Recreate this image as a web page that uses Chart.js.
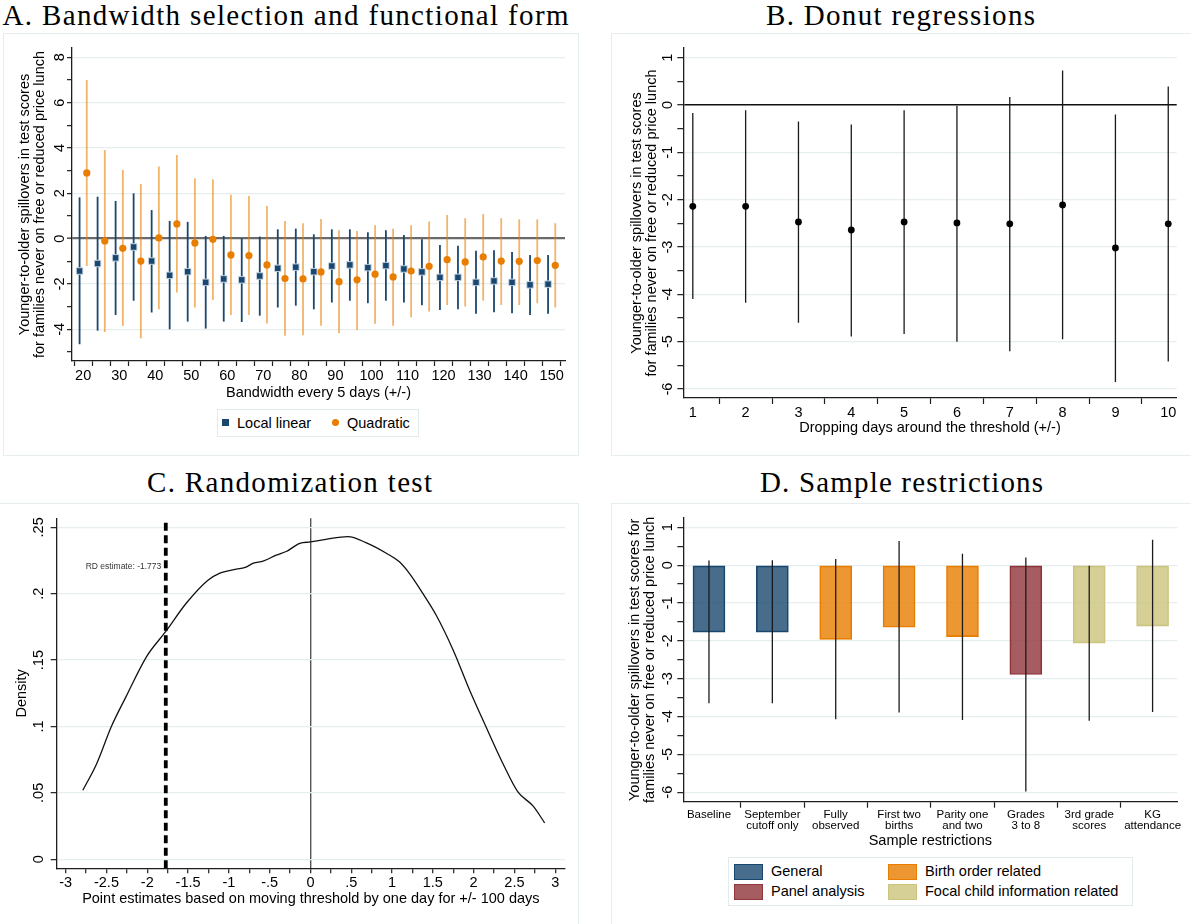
<!DOCTYPE html>
<html lang="en">
<head>
<meta charset="utf-8">
<title>Younger-to-older spillovers: robustness checks</title>
<script src="https://cdn.jsdelivr.net/npm/chart.js@4.4.1/dist/chart.umd.min.js"></script>
<style>
  html, body { margin: 0; padding: 0; background: #fff; }
  #page { position: relative; width: 1191px; height: 924px; overflow: hidden; background: #fff;
          font-family: 'Liberation Sans', Arial, Helvetica, sans-serif; color: #000; }
  .frame { position: absolute; border: 1px solid #e6edef; box-sizing: border-box; }
  .ptitle { position: absolute; font-family: 'Liberation Serif', 'Times New Roman', serif; font-size: 29px;
            line-height: 32px; height: 32px; white-space: nowrap; color: #000; }
  .plot { position: absolute; }
  .plot canvas { display: block; }
  .legend { position: absolute; border: 1px solid #e3eaeb; background: #fff; box-sizing: border-box; }
  .legend .mk { position: absolute; box-sizing: border-box; }
  .legend .tx { position: absolute; font-size: 14.5px; line-height: 20px; white-space: nowrap; }
</style>
</head>
<body>
<div id="page">
  <!-- subgraph regions -->
  <div class="frame" style="left:3px;top:33px;width:576px;height:423px"></div>
  <div class="frame" style="left:611px;top:33px;width:590px;height:423px"></div>
  <div class="frame" style="left:-1px;top:503px;width:580px;height:430px"></div>
  <div class="frame" style="left:611px;top:503px;width:590px;height:430px"></div>

  <div class="ptitle" id="tA" style="top:-1px">A. Bandwidth selection and functional form</div>
  <div class="ptitle" id="tB" style="top:-1px">B. Donut regressions</div>
  <div class="ptitle" id="tC" style="top:466px">C. Randomization test</div>
  <div class="ptitle" id="tD" style="top:466px">D. Sample restrictions</div>

  <div class="plot" style="left:0px;top:40px"><canvas id="cA" width="595" height="370"></canvas></div>
  <div class="plot" style="left:600px;top:40px"><canvas id="cB" width="591" height="405"></canvas></div>
  <div class="plot" style="left:0px;top:505px"><canvas id="cC" width="595" height="419"></canvas></div>
  <div class="plot" style="left:600px;top:505px"><canvas id="cD" width="591" height="350"></canvas></div>

  <div class="legend" style="left:217px;top:409px;width:202px;height:28px">
    <div class="mk" style="left:4px;top:9px;width:7px;height:7px;background:#1a476f"></div>
    <div class="tx" style="left:19px;top:3px">Local linear</div>
    <div class="mk" style="left:114px;top:9px;width:7px;height:7px;border-radius:50%;background:#e87d00"></div>
    <div class="tx" style="left:129px;top:3px">Quadratic</div>
  </div>

  <div class="legend" style="left:728px;top:857px;width:405px;height:49px">
    <div class="mk" style="left:5px;top:6px;width:29px;height:16px;background:rgba(26,71,111,0.8);border:1px solid #1a476f"></div>
    <div class="tx" style="left:42px;top:3px">General</div>
    <div class="mk" style="left:5px;top:26px;width:29px;height:16px;background:rgba(144,53,59,0.8);border:1px solid #90353b"></div>
    <div class="tx" style="left:42px;top:23px">Panel analysis</div>
    <div class="mk" style="left:159px;top:6px;width:29px;height:16px;background:rgba(232,125,0,0.8);border:1px solid #e87d00"></div>
    <div class="tx" style="left:196px;top:3px">Birth order related</div>
    <div class="mk" style="left:159px;top:26px;width:29px;height:16px;background:rgba(204,196,125,0.8);border:1px solid #ccc47d"></div>
    <div class="tx" style="left:196px;top:23px">Focal child information related</div>
  </div>
</div>

<script>
// ---------- Panel A: bandwidth selection and functional form ----------
const BANDWIDTHS = [20, 25, 30, 35, 40, 45, 50, 55, 60, 65, 70, 75, 80, 85, 90, 95, 100, 105, 110, 115, 120, 125, 130, 135, 140, 145, 150];
const LL_EST = [-1.43, -1.10, -0.85, -0.37, -0.99, -1.62, -1.46, -1.93, -1.78, -1.82, -1.65, -1.31, -1.26, -1.46, -1.21, -1.16, -1.28, -1.19, -1.34, -1.47, -1.71, -1.71, -1.93, -1.87, -1.93, -2.04, -2.01];
const LL_LO  = [-4.66, -4.06, -3.37, -2.74, -3.26, -4.00, -3.66, -3.97, -3.66, -3.68, -3.40, -3.04, -2.96, -3.12, -2.82, -2.74, -2.85, -2.74, -2.82, -2.94, -3.15, -3.12, -3.32, -3.25, -3.29, -3.37, -3.32];
const LL_HI  = [1.82, 1.85, 1.66, 2.00, 1.26, 0.78, 0.74, 0.12, 0.12, 0.01, 0.09, 0.41, 0.44, 0.19, 0.41, 0.41, 0.28, 0.37, 0.16, -0.03, -0.28, -0.31, -0.54, -0.51, -0.59, -0.72, -0.72];
const QD_EST = [2.90, -0.10, -0.43, -0.99, 0.03, 0.65, -0.19, -0.03, -0.72, -0.75, -1.16, -1.76, -1.78, -1.47, -1.90, -1.82, -1.57, -1.69, -1.43, -1.22, -0.93, -1.03, -0.81, -0.99, -1.00, -0.97, -1.18];
const QD_LO  = [-1.21, -4.12, -3.85, -4.40, -3.12, -2.38, -3.04, -2.71, -3.37, -3.37, -3.74, -4.29, -4.26, -3.84, -4.18, -4.03, -3.76, -3.85, -3.47, -3.22, -2.93, -3.00, -2.74, -2.93, -2.93, -2.85, -3.04];
const QD_HI  = [7.00, 3.91, 3.03, 2.41, 3.18, 3.69, 2.66, 2.62, 1.93, 1.88, 1.44, 0.78, 0.68, 0.87, 0.37, 0.34, 0.59, 0.44, 0.59, 0.76, 1.04, 0.90, 1.09, 0.90, 0.85, 0.85, 0.68];
const A_X_LABELED = [20, 30, 40, 50, 60, 70, 80, 90, 100, 110, 120, 130, 140, 150];
const A_Y_TICKS = [-5, -4, -3, -2, -1, 0, 1, 2, 3, 4, 5, 6, 7, 8];
const A_Y_LABELED = [-4, -2, 0, 2, 4, 6, 8];

// ---------- Panel B: donut regressions ----------
const DROP_DAYS = [1, 2, 3, 4, 5, 6, 7, 8, 9, 10];
const DONUT_EST = [-2.14, -2.14, -2.47, -2.64, -2.47, -2.49, -2.51, -2.11, -3.02, -2.51];
const DONUT_LO  = [-4.10, -4.18, -4.60, -4.89, -4.84, -5.00, -5.20, -4.95, -5.85, -5.42];
const DONUT_HI  = [-0.17, -0.11, -0.35, -0.41, -0.11, 0.00, 0.17, 0.73, -0.20, 0.39];
const HALF_TICKS = [-6, -5.5, -5, -4.5, -4, -3.5, -3, -2.5, -2, -1.5, -1, -0.5, 0, 0.5, 1];
const UNIT_LABELED = [-6, -5, -4, -3, -2, -1, 0, 1];

// ---------- Panel C: randomization test ----------
const RD_ESTIMATE = -1.773;
const PLACEBO_X = [-2.79, -2.62, -2.44, -2.26, -2.01, -1.78, -1.52, -1.26, -1.11, -0.95, -0.79, -0.70, -0.58, -0.42, -0.29, -0.13, 0.00, 0.19, 0.46, 0.68, 0.93, 1.09, 1.21, 1.38, 1.54, 1.75, 1.95, 2.15, 2.36, 2.54, 2.73, 2.87];
const PLACEBO_DENSITY = [0.052, 0.072, 0.100, 0.1225, 0.1525, 0.171, 0.193, 0.210, 0.2155, 0.218, 0.220, 0.223, 0.2245, 0.229, 0.232, 0.238, 0.239, 0.241, 0.243, 0.2385, 0.2305, 0.224, 0.2155, 0.200, 0.184, 0.1575, 0.1275, 0.100, 0.072, 0.051, 0.040, 0.0275];
const C_X_TICKS = [-3, -2.75, -2.5, -2.25, -2, -1.75, -1.5, -1.25, -1, -0.75, -0.5, -0.25, 0, 0.25, 0.5, 0.75, 1, 1.25, 1.5, 1.75, 2, 2.25, 2.5, 2.75, 3];
const C_X_LABELED = [-3, -2.5, -2, -1.5, -1, -0.5, 0, 0.5, 1, 1.5, 2, 2.5, 3];
const C_X_TEXT = ['-3', '-2.5', '-2', '-1.5', '-1', '-.5', '0', '.5', '1', '1.5', '2', '2.5', '3'];
const C_Y_TICKS = [0, 0.05, 0.1, 0.15, 0.2, 0.25];
const C_Y_TEXT = ['0', '.05', '.1', '.15', '.2', '.25'];
const C_Y_MIN = -0.0068, C_Y_MAX = 0.2568;
const RD_LABEL_Y = 0.2203;

// ---------- Panel D: sample restrictions ----------
const SAMPLES = [['Baseline'], ['September', 'cutoff only'], ['Fully', 'observed'], ['First two', 'births'],
                 ['Parity one', 'and two'], ['Grades', '3 to 8'], ['3rd grade', 'scores'], ['KG', 'attendance']];
const SAMPLE_POS = [1, 2, 3, 4, 5, 6, 7, 8];
const SAMPLE_GROUP = ['general', 'general', 'birth', 'birth', 'birth', 'panel', 'focal', 'focal'];
const SAMPLE_EST = [-1.77, -1.77, -1.96, -1.64, -1.89, -2.89, -2.06, -1.61];
const SAMPLE_LO  = [-3.65, -3.65, -4.07, -3.89, -4.09, -5.98, -4.11, -3.88];
const SAMPLE_HI  = [0.12, 0.13, 0.16, 0.64, 0.30, 0.20, 0.00, 0.67];

// ---------- styling ----------
const NAVY = '#1a476f';
const ORANGE = '#e87d00';
const GRID = '#e6eef0';
const AXIS = '#1e1e1e';
const GROUP_FILL = { general: 'rgba(26,71,111,0.8)', birth: 'rgba(232,125,0,0.8)', panel: 'rgba(144,53,59,0.8)', focal: 'rgba(204,196,125,0.8)' };
const GROUP_LINE = { general: '#1a476f', birth: '#e87d00', panel: '#90353b', focal: '#ccc47d' };
const Y_TITLE_A = ['Younger-to-older spillovers in test scores', 'for families never on free or reduced price lunch'];
const Y_TITLE_D = ['Younger-to-older spillovers in test scores for', 'families never on free or reduced price lunch'];

Chart.defaults.font.family = "'Liberation Sans', Arial, Helvetica, sans-serif";
Chart.defaults.font.size = 14.5;
Chart.defaults.color = '#000';

const near = (a, b) => Math.abs(a - b) < 1e-9;
const textFor = (v, vals, texts) => { const i = vals.findIndex(a => near(a, v)); return i < 0 ? '' : texts[i]; };
const fixTicks = values => scale => { scale.ticks = values.map(v => ({ value: v })); };
const lockBox = size => scale => {
  if (scale.isHorizontal()) scale.height = size; else scale.width = size;
  scale.paddingTop = scale.paddingBottom = scale.paddingLeft = scale.paddingRight = 0;
};

// vertical value axis with rotated tick labels (Stata style)
function valueAxis(o) {
  return {
    type: 'linear', position: 'left', min: o.min, max: o.max, bounds: 'data',
    afterBuildTicks: fixTicks(o.ticks),
    afterFit: lockBox(o.size),
    ticks: { autoSkip: false, minRotation: 90, maxRotation: 90, crossAlign: 'center', padding: o.pad,
             color: '#000', font: { size: 14.5 }, callback: v => textFor(v, o.labeled, o.texts) },
    grid: {
      drawTicks: true, tickLength: o.tickLength, tickColor: AXIS, tickWidth: 1.2,
      color: c => {
        const v = c.tick ? c.tick.value : NaN;
        if (o.zero && near(v, 0)) return o.zero.color;
        return o.gridAt.some(g => near(g, v)) ? GRID : 'rgba(0,0,0,0)';
      },
      lineWidth: c => (o.zero && c.tick && near(c.tick.value, 0)) ? o.zero.width : 1.3
    },
    border: { display: true, color: AXIS, width: 1.3 },
    title: { display: true, text: o.title, color: '#000', font: { size: 14.5, lineHeight: 1.08 },
             padding: { top: o.titlePad, bottom: 0 } }
  };
}

// horizontal axis
function indexAxis(o) {
  return {
    type: 'linear', position: 'bottom', min: o.min, max: o.max, bounds: 'data', offset: false,
    afterBuildTicks: fixTicks(o.ticks),
    afterFit: lockBox(o.size),
    ticks: { autoSkip: false, minRotation: 0, maxRotation: 0, padding: o.pad, color: '#000',
             font: o.font || { size: 14.5 }, callback: v => textFor(v, o.labeled, o.texts) },
    grid: {
      drawTicks: true, tickLength: o.tickLength, tickColor: AXIS, tickWidth: 1.2,
      drawOnChartArea: !!o.line,
      color: c => (o.line && c.tick && near(c.tick.value, o.line.at)) ? o.line.color : 'rgba(0,0,0,0)',
      lineWidth: () => (o.line ? o.line.width : 1)
    },
    border: { display: true, color: AXIS, width: 1.3 },
    title: { display: true, text: o.title, color: '#000', font: { size: 14.5 }, padding: { top: 0, bottom: o.titlePad } }
  };
}

function baseOptions(padding, scales) {
  return {
    responsive: false, maintainAspectRatio: false, animation: false, devicePixelRatio: 1, events: [],
    layout: { padding, autoPadding: false },
    plugins: { legend: { display: false }, tooltip: { enabled: false }, title: { display: false } },
    scales
  };
}

// confidence-interval whiskers are drawn as thin floating bars
const whisker = (thickness, color) => ({ type: 'bar', grouped: false, barThickness: thickness,
  backgroundColor: color, borderWidth: 0, inflateAmount: 0 });

// ---------- A ----------
const A_SHIFT = 1; // local linear drawn just left of the bandwidth, quadratic just right
new Chart(document.getElementById('cA'), {
  type: 'scatter',
  data: {
    datasets: [
      { type: 'scatter', label: 'Local linear', order: 0,
        data: BANDWIDTHS.map((b, i) => ({ x: b - A_SHIFT, y: LL_EST[i] })),
        pointStyle: 'rect', pointRadius: 4.6, pointBackgroundColor: NAVY,
        pointBorderColor: 'rgba(200,214,228,0.95)', pointBorderWidth: 1 },
      { type: 'scatter', label: 'Quadratic', order: 0,
        data: BANDWIDTHS.map((b, i) => ({ x: b + A_SHIFT, y: QD_EST[i] })),
        pointStyle: 'circle', pointRadius: 3.6, pointBackgroundColor: ORANGE, pointBorderWidth: 0 },
      Object.assign(whisker(1.8, NAVY), { label: 'Local linear CI', order: 1,
        data: BANDWIDTHS.map((b, i) => ({ x: b - A_SHIFT, y: [LL_LO[i], LL_HI[i]] })) }),
      Object.assign(whisker(1.8, 'rgba(232,125,0,0.58)'), { label: 'Quadratic CI', order: 1,
        data: BANDWIDTHS.map((b, i) => ({ x: b + A_SHIFT, y: [QD_LO[i], QD_HI[i]] })) })
    ]
  },
  options: baseOptions({ left: 0, top: 8, right: 30, bottom: 0 }, {
    x: indexAxis({ min: 16.9, max: 153.7, ticks: BANDWIDTHS, labeled: A_X_LABELED, texts: A_X_LABELED.map(String),
                   size: 49, pad: 1, tickLength: 5, title: 'Bandwidth every 5 days (+/-)', titlePad: 8.3 }),
    y: valueAxis({ min: -5.4, max: 8.41, ticks: A_Y_TICKS, labeled: A_Y_LABELED, texts: A_Y_LABELED.map(String),
                   gridAt: A_Y_LABELED, zero: { color: '#6a6a6a', width: 2.3 }, size: 72, pad: 1, tickLength: 5,
                   title: Y_TITLE_A, titlePad: 17 })
  })
});

// ---------- B ----------
new Chart(document.getElementById('cB'), {
  type: 'scatter',
  data: {
    datasets: [
      { type: 'scatter', label: 'Estimate', order: 0,
        data: DROP_DAYS.map((d, i) => ({ x: d, y: DONUT_EST[i] })),
        pointStyle: 'circle', pointRadius: 3.4, pointBackgroundColor: '#000', pointBorderWidth: 0 },
      Object.assign(whisker(1.3, '#1a1a1a'), { label: '95% CI', order: 1,
        data: DROP_DAYS.map((d, i) => ({ x: d, y: [DONUT_LO[i], DONUT_HI[i]] })) })
    ]
  },
  options: baseOptions({ left: 0, top: 8, right: 14.3, bottom: 0 }, {
    x: indexAxis({ min: 0.82, max: 10.16, ticks: DROP_DAYS, labeled: DROP_DAYS, texts: DROP_DAYS.map(String),
                   size: 47, pad: 0.6, tickLength: 6, title: 'Dropping days around the threshold (+/-)', titlePad: 8.3 }),
    y: valueAxis({ min: -6.19, max: 1.205, ticks: HALF_TICKS, labeled: UNIT_LABELED, texts: UNIT_LABELED.map(String),
                   gridAt: UNIT_LABELED, zero: { color: '#111', width: 1.4 }, size: 83.3, pad: 2.5, tickLength: 6,
                   title: Y_TITLE_A, titlePad: 28.7 })
  })
});

// ---------- C ----------
const rdLabel = {
  id: 'rdLabel',
  afterDatasetsDraw(chart) {
    const { ctx, scales: { x, y } } = chart;
    ctx.save();
    ctx.font = "8.5px 'Liberation Sans', Arial, sans-serif";
    ctx.fillStyle = '#333';
    ctx.textAlign = 'right';
    ctx.textBaseline = 'middle';
    ctx.fillText('RD estimate: ' + RD_ESTIMATE, x.getPixelForValue(RD_ESTIMATE) - 4.5, y.getPixelForValue(RD_LABEL_Y));
    ctx.restore();
  }
};
new Chart(document.getElementById('cC'), {
  type: 'scatter',
  data: {
    datasets: [
      { type: 'line', label: 'RD estimate', order: 0,
        data: [{ x: RD_ESTIMATE, y: C_Y_MIN }, { x: RD_ESTIMATE, y: C_Y_MAX }],
        borderColor: '#000', borderWidth: 3.8, borderDash: [8, 4.5], pointRadius: 0, fill: false },
      { type: 'line', label: 'Density', order: 1,
        data: PLACEBO_X.map((v, i) => ({ x: v, y: PLACEBO_DENSITY[i] })),
        borderColor: '#111', borderWidth: 1.3, pointRadius: 0, fill: false, cubicInterpolationMode: 'monotone' }
    ]
  },
  options: baseOptions({ left: 0, top: 13.3, right: 30, bottom: 0 }, {
    x: indexAxis({ min: -3.11, max: 3.12, ticks: C_X_TICKS, labeled: C_X_LABELED, texts: C_X_TEXT,
                   size: 55.7, pad: 1.3, tickLength: 5, line: { at: 0, color: '#555', width: 1.4 },
                   title: 'Point estimates based on moving threshold by one day for +/- 100 days', titlePad: 16.3 }),
    y: valueAxis({ min: C_Y_MIN, max: C_Y_MAX, ticks: C_Y_TICKS, labeled: C_Y_TICKS, texts: C_Y_TEXT,
                   gridAt: C_Y_TICKS, size: 56.7, pad: 1.3, tickLength: 6, title: 'Density', titlePad: 14 })
  }),
  plugins: [rdLabel]
});

// ---------- D ----------
new Chart(document.getElementById('cD'), {
  type: 'scatter',
  data: {
    datasets: [
      Object.assign(whisker(1.3, '#1b1b1b'), { label: '95% CI', order: 1,
        data: SAMPLE_POS.map((p, i) => ({ x: p, y: [SAMPLE_LO[i], SAMPLE_HI[i]] })) }),
      { type: 'bar', label: 'Estimate', order: 2, grouped: false, barThickness: 32,
        data: SAMPLE_POS.map((p, i) => ({ x: p, y: SAMPLE_EST[i] })),
        backgroundColor: SAMPLE_GROUP.map(g => GROUP_FILL[g]),
        borderColor: SAMPLE_GROUP.map(g => GROUP_LINE[g]), borderWidth: 1, borderSkipped: false }
    ]
  },
  options: baseOptions({ left: 0, top: 13, right: 13.7, bottom: 0 }, {
    x: indexAxis({ min: 0.595, max: 8.39, ticks: SAMPLE_POS, labeled: SAMPLE_POS, texts: SAMPLES,
                   font: { size: 11.5, lineHeight: 0.96 }, size: 53.3, pad: 1.5, tickLength: 6,
                   title: 'Sample restrictions', titlePad: 5.6 }),
    y: valueAxis({ min: -6.25, max: 1.246, ticks: HALF_TICKS, labeled: UNIT_LABELED, texts: UNIT_LABELED.map(String),
                   gridAt: UNIT_LABELED, size: 83.3, pad: 2.5, tickLength: 6, title: Y_TITLE_D, titlePad: 27 })
  })
});

// ---------- panel headings: spread each heading over its span ----------
function spreadTitle(id, centerX, width) {
  const el = document.getElementById(id);
  const cs = getComputedStyle(el);
  const m = document.createElement('canvas').getContext('2d');
  m.font = cs.fontSize + ' ' + cs.fontFamily;
  const text = el.textContent;
  const natural = m.measureText(text).width;
  el.style.letterSpacing = ((width - natural) / (text.length - 1)) + 'px';
  el.style.left = (centerX - width / 2) + 'px';
}
spreadTitle('tA', 285.5, 566);
spreadTitle('tB', 900.5, 269);
spreadTitle('tC', 289.5, 285);
spreadTitle('tD', 901.5, 283);
</script>
</body>
</html>
